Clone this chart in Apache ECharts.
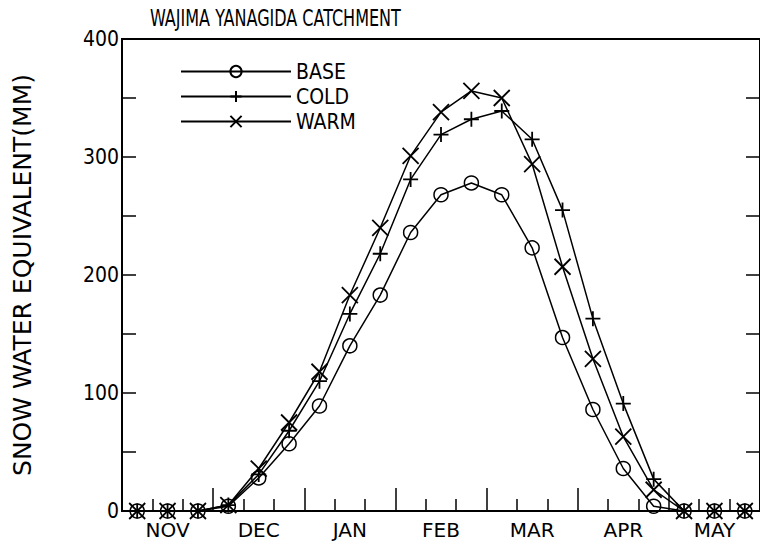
<!DOCTYPE html>
<html><head><meta charset="utf-8">
<script src="https://cdn.jsdelivr.net/npm/echarts@6/dist/echarts.min.js"></script>
<style>html,body{margin:0;padding:0;background:#fff}#c{width:760px;height:545px}</style>
</head><body><div id="c"></div>
<script>
const titleText = 'WAJIMA YANAGIDA CATCHMENT';
const yName = 'SNOW WATER EQUIVALENT(MM)';
const months = ['NOV','DEC','JAN','FEB','MAR','APR','MAY'];
// dekad mid-points (3 dekads per month, Nov 1 = 0)
const dekads = [0.5,1.5,2.5,3.5,4.5,5.5,6.5,7.5,8.5,9.5,10.5,11.5,12.5,13.5,14.5,15.5,16.5,17.5,18.5,19.5,20.5];
const base = [0,0,0,4,28,57,89,140,183,236,268,278,268,223,147,86,36,4,0,0,0];
const cold = [0,0,0,5,31,68,110,167,218,281,319,332,339,315,255,163,91,27,0,0,0];
const warm = [0,0,0,5,36,75,118,183,240,301,338,356,350,294,207,129,63,18,0,0,0];
const seriesNames = ['BASE','COLD','WARM'];

const FONT = "'DejaVu Sans Condensed','Liberation Sans Narrow','DejaVu Sans',sans-serif";
const WIDE = "'DejaVu Sans',sans-serif";
const chart = echarts.init(document.getElementById('c'), null, {renderer:'svg'});
const pair = arr => dekads.map((x,i)=>[x, arr[i]]);
const lineStyle = {color:'#000', width:1.5};
const plusPath = 'path://M7,0L7,14M0,7L14,7';
const crossPath = 'path://M0,0L14,14M14,0L0,14';
chart.setOption({
  animation:false,
  backgroundColor:'#fff',
  graphic:[{type:'text', x:150, y:7, scaleX:0.775, scaleY:1,
    style:{text:titleText, fill:'#000', font:"23px 'DejaVu Sans Condensed','DejaVu Sans',sans-serif", textVerticalAlign:'top', textAlign:'left'}}],
  legend:{
    orient:'vertical', left:175, top:56, itemWidth:110, itemHeight:14, itemGap:4,
    textStyle:{fontFamily:FONT, fontSize:21, color:'#000'},
    data:seriesNames
  },
  grid:{left:122, top:39, width:643, bottom:34, show:true, borderColor:'#000', borderWidth:2, backgroundColor:'transparent'},
  xAxis:[
    {type:'value', min:0, max:21, interval:3, gridIndex:0,
     axisLine:{show:true, onZero:false, lineStyle:{color:'#000', width:2}},
     axisTick:{show:true, inside:true, length:23, lineStyle:{color:'#000', width:1.5}},
     minorTick:{show:true, splitNumber:3, length:12, lineStyle:{color:'#000', width:1.5}},
     axisLabel:{show:false}, splitLine:{show:false}},
    {type:'category', data:months, boundaryGap:true, position:'bottom', gridIndex:0,
     axisLine:{show:false}, axisTick:{show:false},
     axisLabel:{fontFamily:WIDE, fontSize:20, color:'#000', margin:9}}
  ],
  yAxis:[
    {type:'value', min:0, max:400, interval:50,
     name:yName, nameLocation:'middle', nameGap:87,
     nameTextStyle:{fontFamily:WIDE, fontSize:25, color:'#000'},
     axisLine:{show:true, lineStyle:{color:'#000', width:2}},
     axisTick:{show:true, inside:true, length:14, lineStyle:{color:'#000', width:1.5}},
     axisLabel:{fontFamily:FONT, fontSize:21, color:'#000', margin:3, formatter:v=> v%100===0 ? String(v) : ''},
     splitLine:{show:false}},
    {type:'value', min:0, max:400, interval:50, position:'right',
     axisLine:{show:true, lineStyle:{color:'#000', width:2}},
     axisTick:{show:true, inside:true, length:14, lineStyle:{color:'#000', width:1.5}},
     axisLabel:{show:false}, splitLine:{show:false}}
  ],
  series:[
    {name:'BASE', type:'line', xAxisIndex:0, yAxisIndex:0, data:pair(base), symbol:'circle', symbolSize:14,
     itemStyle:{color:'rgba(0,0,0,0)', borderColor:'#000', borderWidth:1.5}, lineStyle:lineStyle},
    {name:'COLD', type:'line', xAxisIndex:0, yAxisIndex:0, data:pair(cold), symbol:plusPath, symbolSize:15,
     itemStyle:{color:'rgba(0,0,0,0)', borderColor:'#000', borderWidth:1.8}, lineStyle:lineStyle},
    {name:'WARM', type:'line', xAxisIndex:0, yAxisIndex:0, data:pair(warm), symbol:crossPath, symbolSize:16,
     itemStyle:{color:'rgba(0,0,0,0)', borderColor:'#000', borderWidth:1.8}, lineStyle:lineStyle}
  ]
});
</script></body></html>
